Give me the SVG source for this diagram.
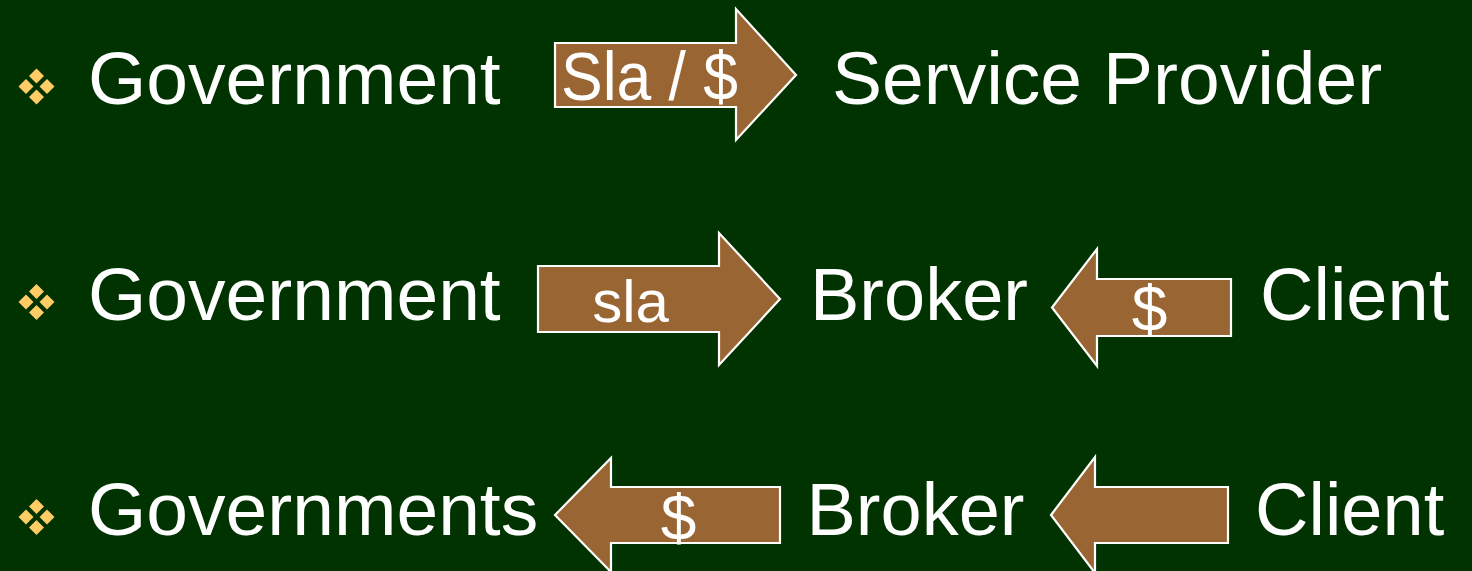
<svg xmlns="http://www.w3.org/2000/svg" width="1472" height="571" viewBox="0 0 1472 571">
<style>
.t{font-family:"Liberation Sans",Arial,sans-serif;font-size:75px;fill:#ffffff}
.s{font-size:74px}
.l{font-family:"Liberation Sans",Arial,sans-serif;fill:#ffffff}
.arr{fill:#996633;stroke:#ffffff;stroke-width:2.2;stroke-linejoin:miter}
.b{fill:#ffcc66}
</style>
<defs>
<g id="bullet">
<polygon class="b" points="0,-18 7.5,-10.5 0,-3 -7.5,-10.5"/>
<polygon class="b" points="-10.5,-7.5 -3,0 -10.5,7.5 -18,0"/>
<polygon class="b" points="10.5,-7.5 18,0 10.5,7.5 3,0"/>
<polygon class="b" points="0,3 7.5,10.5 0,18 -7.5,10.5"/>
</g>
</defs>
<rect x="0" y="0" width="1472" height="571" fill="#003300"/>
<g id="bullets">
<use href="#bullet" x="36.5" y="86.5"/>
<use href="#bullet" x="36.5" y="302"/>
<use href="#bullet" x="36.5" y="517"/>
</g>
<g id="connectors">
<g id="arrow-sla-dollar">
<polygon class="arr" points="555,43 736,43 736,9 796,75 736,140 736,107 555,107"/>
<text class="l" x="561" y="99.5" font-size="68" textLength="177" lengthAdjust="spacingAndGlyphs">Sla / $</text>
</g>
<g id="arrow-sla">
<polygon class="arr" points="538,266 719,266 719,233 780,299 719,365 719,332 538,332"/>
<text class="l" x="630.5" y="322" font-size="60" text-anchor="middle">sla</text>
</g>
<g id="arrow-client-broker-1">
<polygon class="arr" points="1231,279 1097,279 1097,249 1052,307.5 1097,366 1097,336 1231,336"/>
<text class="l" x="1149.5" y="331" font-size="64" text-anchor="middle">$</text>
</g>
<g id="arrow-broker-govs">
<polygon class="arr" points="780,487 611,487 611,458 555,515 611,572 611,543 780,543"/>
<text class="l" x="678.5" y="540" font-size="64" text-anchor="middle">$</text>
</g>
<g id="arrow-client-broker-2">
<polygon class="arr" points="1228,487 1095,487 1095,457 1051,515 1095,573 1095,543 1228,543"/>
</g>
</g>
<g id="node-government-1"><text class="t" x="88" y="104">Government</text></g>
<g id="node-service-provider"><text class="t" x="832" y="104">Service Provider</text></g>
<g id="node-government-2"><text class="t" x="88" y="319.5">Government</text></g>
<g id="node-broker-1"><text class="t s" x="810" y="319.5">Broker</text></g>
<g id="node-client-1"><text class="t s" x="1260" y="319.5">Client</text></g>
<g id="node-governments"><text class="t" x="88" y="534.5">Governments</text></g>
<g id="node-broker-2"><text class="t s" x="806.5" y="534.5">Broker</text></g>
<g id="node-client-2"><text class="t s" x="1255" y="534.5">Client</text></g>
</svg>
